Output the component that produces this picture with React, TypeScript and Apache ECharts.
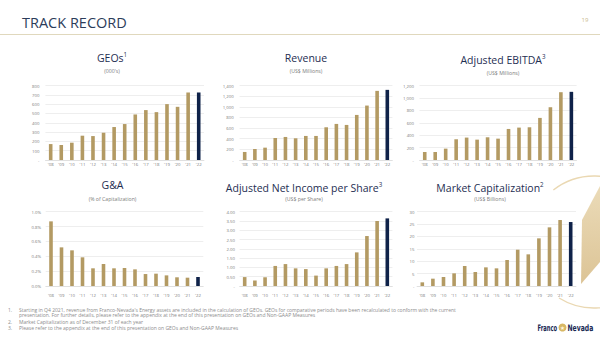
import React, { useEffect, useRef } from "react";
import * as echarts from "echarts";

const years = ["'08", "'09", "'10", "'11", "'12", "'13", "'14", "'15", "'16", "'17", "'18", "'19", "'20", "'21", "'22"];
const geos = [171, 161, 186, 261, 257, 293, 354, 386, 489, 536, 514, 600, 571, 725, 725];
const revenue = [151, 207, 232, 414, 433, 408, 452, 452, 615, 678, 659, 847, 1023, 1299, 1318];
const ebitda = [129, 129, 183, 334, 361, 328, 366, 344, 500, 522, 527, 678, 850, 1092, 1098];
const gna = [0.87, 0.52, 0.48, 0.386, 0.238, 0.296, 0.238, 0.242, 0.224, 0.161, 0.166, 0.143, 0.117, 0.112, 0.121];
const netIncomePerShare = [0.48, 0.29, 0.47, 1.08, 1.18, 0.95, 0.91, 0.56, 0.95, 1.08, 1.18, 1.81, 2.69, 3.5, 3.64];
const marketCap = [1.48, 2.96, 3.63, 5.11, 8.07, 5.65, 7.53, 7.13, 10.5, 14.66, 12.78, 19.24, 23.68, 26.64, 25.83];

const panelTitles = ["GEOs", "Revenue", "Adjusted EBITDA", "G&A", "Adjusted Net Income per Share", "Market Capitalization"];
const panelSups = ["1", "", "3", "", "3", "2"];
const panelSubtitles = ["(000's)", "(US$ Millions)", "(US$ Millions)", "(% of Capitalization)", "(US$ per Share)", "(US$ Billions)"];
const footnotes = [
  ["1.", "Starting in Q4 2021, revenue from Franco-Nevada's Energy assets are included in the calculation of GEOs. GEOs for comparative periods have been recalculated to conform with the current"],
  ["", "presentation. For further details, please refer to the appendix at the end of this presentation on GEOs and Non-GAAP Measures"],
  ["2.", "Market Capitalization as of December 31 of each year"],
  ["3.", "Please refer to the appendix at the end of this presentation on GEOs and Non-GAAP Measures"],
];

const FONT = "'Open Sans', 'Noto Sans', sans-serif";
const GOLD = "#b39a63";
const NAVY = "#0f2249";
const TITLE = "#1e2e52";
const SUB = "#7c7c7c";
const TICK = "#7a7a7a";
const GRIDC = "#e2e2e2";

const dash = (f: (v: number) => string) => (v: number) => (v === 0 ? "-" : f(v));

const panels = [
  { data: geos, max: 800, interval: 100, fmt: dash((v) => String(v)), grid: { left: 45.4, top: 85.5, width: 158.6, height: 74.5 }, ym: 6, xm: 2.2, tx: 112, ty: 57.5, sy: 70.5 },
  { data: revenue, max: 1400, interval: 200, fmt: dash((v) => v.toLocaleString("en-US")), grid: { left: 239.6, top: 85.5, width: 152.8, height: 74.5 }, ym: 6, xm: 2.2, tx: 306, ty: 57.5, sy: 70.5 },
  { data: ebitda, max: 1200, interval: 200, fmt: dash((v) => v.toLocaleString("en-US")), grid: { left: 419.5, top: 85.5, width: 157.1, height: 74.5 }, ym: 5.5, xm: 2.2, tx: 503, ty: 60, sy: 73 },
  { data: gna, max: 1.0, interval: 0.2, fmt: (v: number) => v.toFixed(1) + "%", grid: { left: 45.75, top: 211.7, width: 157.5, height: 74.3 }, ym: 4.7, xm: 6.5, tx: 112.5, ty: 185, sy: 198.7 },
  { data: netIncomePerShare, max: 4.0, interval: 0.5, fmt: dash((v) => v.toFixed(2)), grid: { left: 239.6, top: 211.7, width: 152.8, height: 74.3 }, ym: 4.6, xm: 6.5, tx: 304, ty: 187.5, sy: 198.7 },
  { data: marketCap, max: 30, interval: 5, fmt: dash((v) => String(v)), grid: { left: 417, top: 211.7, width: 159, height: 74.3 }, ym: 2.5, xm: 6.5, tx: 490, ty: 187.5, sy: 198.7 },
];

function txt(x: number, y: number, text: string, fontSize: number, fill: string, align = "center", extra: any = {}, el: any = {}) {
  return {
    type: "text",
    x,
    y,
    silent: true,
    ...el,
    style: { text, fontSize, fill, fontFamily: FONT, align, verticalAlign: "middle", ...extra },
  };
}

export default function App() {
  const ref = useRef<HTMLDivElement>(null);
  useEffect(() => {
    if (!ref.current) return;
    const chart = echarts.init(ref.current, null, { renderer: "svg" });
    const last = years.length - 1;

    const graphic: any[] = [];
    // decorative arcs and star point
    graphic.push({
      type: "arc", silent: true, z: -10,
      shape: { cx: 594, cy: 242, r: 66, startAngle: (-128 * Math.PI) / 180, endAngle: (-50 * Math.PI) / 180 },
      style: { stroke: "#ead8b2", lineWidth: 1.4, fill: null },
    });
    graphic.push({
      type: "arc", silent: true, z: -10,
      shape: { cx: 594, cy: 242, r: 66, startAngle: (50 * Math.PI) / 180, endAngle: (122 * Math.PI) / 180 },
      style: { stroke: "#ead8b2", lineWidth: 1.4, fill: null },
    });
    graphic.push({
      type: "polygon", silent: true, z: -10,
      shape: { points: [[600, 186], [582, 220], [581, 284], [600, 262]] },
      style: {
        fill: new echarts.graphic.LinearGradient(0, 0, 0, 1, [
          { offset: 0, color: "#ebdbb8" },
          { offset: 1, color: "#dcc496" },
        ]),
      },
    });
    // header
    graphic.push(txt(22, 22, "TRACK RECORD", 14.5, "#2c3c5a", "left"));
    graphic.push(txt(585, 20, "19", 6, "#c9b98d", "center"));
    graphic.push({ type: "line", silent: true, shape: { x1: 0, y1: 34.5, x2: 600, y2: 34.5 }, style: { stroke: "#e0d8bd", lineWidth: 1 } });

    panels.forEach((p, i) => {
      const sup = panelSups[i];
      graphic.push({
        type: "text", x: p.tx, y: p.ty, silent: true,
        style: {
          text: sup ? `{t|${panelTitles[i]}}{s|${sup}}` : `{t|${panelTitles[i]}}`,
          align: "center", verticalAlign: "middle",
          rich: {
            t: { fontSize: 10.5, fill: TITLE, fontFamily: FONT, lineHeight: 13 },
            s: { fontSize: 6.2, fill: TITLE, fontFamily: FONT, verticalAlign: "top", lineHeight: 8 },
          },
        },
      });
      graphic.push(txt(p.tx, p.sy, panelSubtitles[i], 5.2, SUB));
    });

    const fy = [309.5, 315.3, 321.5, 327.6];
    footnotes.forEach((f, i) => {
      if (f[0]) graphic.push(txt(8, fy[i], f[0], 5, "#8c8c8c", "left"));
      graphic.push(txt(19, fy[i], f[1], 5, "#8c8c8c", "left"));
    });

    // logo
    const LOGOFONT = "'DejaVu Sans', sans-serif";
    graphic.push(txt(537.5, 328, "Franco", 9, "#1a2a55", "left", { fontWeight: "bold", fontFamily: LOGOFONT }, { scaleX: 0.58 }));
    graphic.push({ type: "circle", silent: true, shape: { cx: 562.5, cy: 327.5, r: 4 }, style: { fill: "#d8b864" } });
    graphic.push(txt(562.5, 327.8, "★", 5.5, "#fff7e0", "center", { fontFamily: "'DejaVu Sans', sans-serif" }));
    graphic.push(txt(567.5, 328, "Nevada", 9, "#1a2a55", "left", { fontWeight: "bold", fontFamily: LOGOFONT }, { scaleX: 0.68 }));

    const option: any = {
      animation: false,
      backgroundColor: "#ffffff",
      textStyle: { fontFamily: FONT },
      grid: panels.map((p) => ({ ...p.grid, containLabel: false, outerBoundsMode: "none" })),
      xAxis: panels.map((p, i) => ({
        type: "category",
        gridIndex: i,
        data: years,
        axisTick: { show: false },
        axisLine: { lineStyle: { color: "#d6d6d6", width: 0.6 } },
        axisLabel: { fontSize: 4.3, color: TICK, margin: p.xm, interval: 0, fontFamily: FONT },
      })),
      yAxis: panels.map((p, i) => ({
        type: "value",
        gridIndex: i,
        min: 0,
        max: p.max,
        interval: p.interval,
        axisLine: { show: false },
        axisTick: { show: false },
        splitLine: { lineStyle: { color: GRIDC, width: 0.6 } },
        axisLabel: { fontSize: 4.3, color: TICK, margin: p.ym, formatter: p.fmt, fontFamily: FONT },
      })),
      series: panels.map((p, i) => ({
        type: "bar",
        xAxisIndex: i,
        yAxisIndex: i,
        barWidth: 3.6,
        itemStyle: { color: GOLD },
        data: p.data.map((v, j) => (j === last ? { value: v, itemStyle: { color: NAVY } } : v)),
      })),
      graphic,
    };
    chart.setOption(option);
    return () => chart.dispose();
  }, []);
  return <div ref={ref} style={{ position: "absolute", left: 0, top: 0, width: 600, height: 337 }} />;
}
